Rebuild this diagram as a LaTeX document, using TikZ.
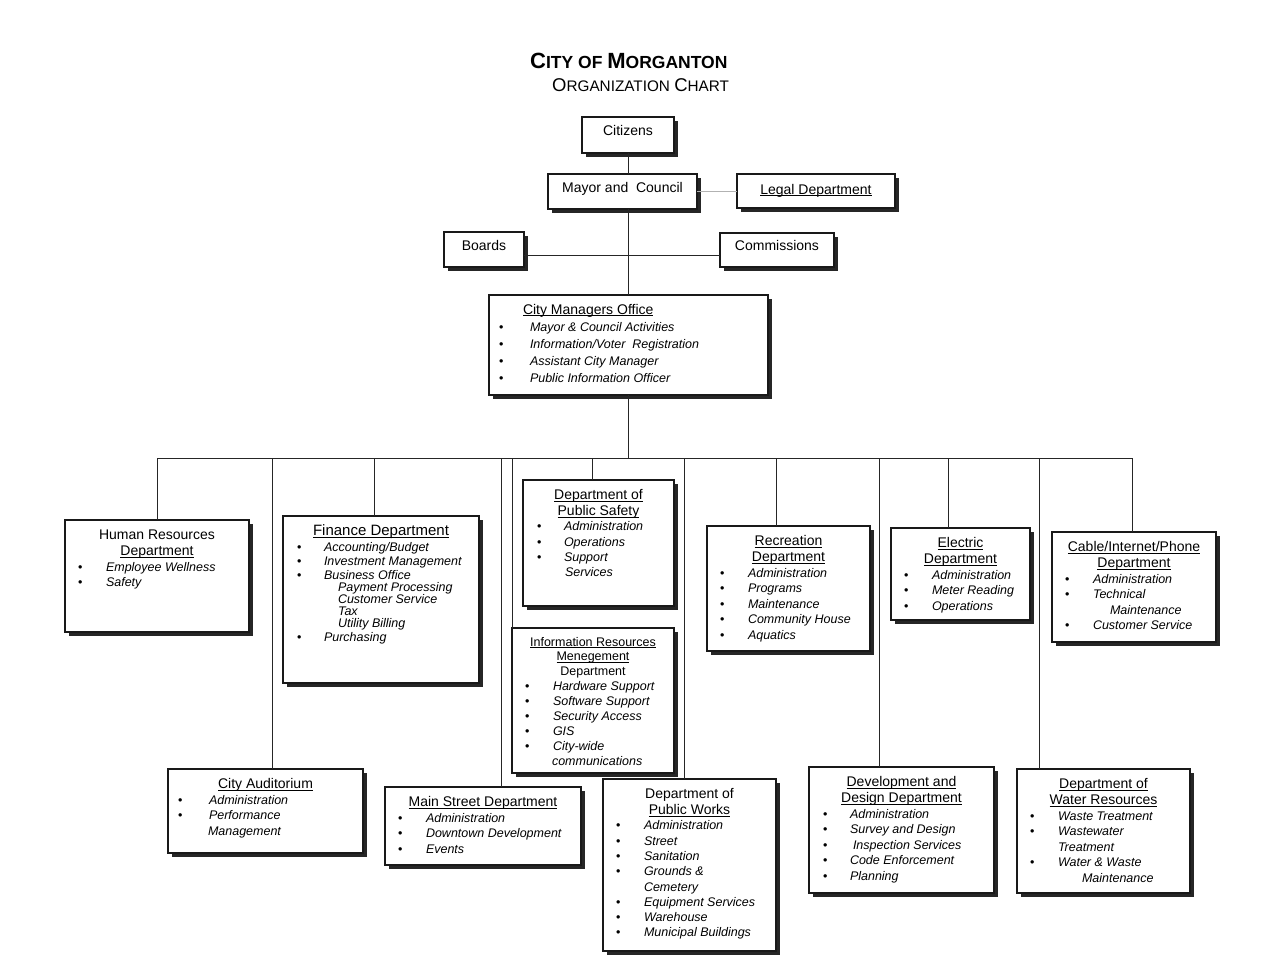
\documentclass[tikz,border=0pt]{standalone}
\usepackage{fontspec}
\setmainfont{Liberation Sans}
\usetikzlibrary{shadows}
\newsavebox{\ulbox}
\newcommand{\ul}[1]{\leavevmode\sbox{\ulbox}{#1}\rlap{\rule[-1.8pt]{\wd\ulbox}{0.7pt}}\usebox{\ulbox}}
\newcommand{\hdsize}{14}
\newcommand{\hdskip}{16}
\newcommand{\bx}[4][19.5pt]{\parbox[t][#3][t]{#2}{\fontsize{12.5}{15.5}\selectfont\setlength{\parindent}{0pt}\setlength{\parskip}{0pt}\rule{0pt}{#1}#4}}
\newcommand{\hd}[1]{{\centering\fontsize{\hdsize}{\hdskip}\selectfont #1\par}}
\newcommand{\itm}[2][13pt]{\par\hspace*{#1}\makebox[\dimexpr41pt-#1\relax][l]{\textbullet}\textit{#2}}
\newcommand{\cnt}[2][41pt]{\par\hspace*{#1}\textit{#2}}
\newcommand{\subitm}[1]{\par\vspace{-2pt}\hspace*{55pt}\textit{#1}}
\tikzset{
  box/.style={draw=black!90, line width=1.1pt, fill=white, inner sep=0pt, outer sep=0pt,
    anchor=north west,
    drop shadow={shadow xshift=4pt, shadow yshift=-4pt, fill=black!85, opacity=1}},
  link/.style={draw=black!85, line width=1pt},
  greylink/.style={draw=black!30, line width=1.3pt}
}
\begin{document}
\begin{tikzpicture}[x=1pt,y=-1pt]
\useasboundingbox (0,0) rectangle (1270,979);
\fill[white] (0,0) rectangle (1270,979);

% title
\node[anchor=base west, inner sep=0] (title) at (530,69)
  {\fontsize{22}{22}\selectfont\bfseries C{\fontsize{17.5}{17.5}\selectfont ITY OF }M{\fontsize{17.5}{17.5}\selectfont ORGANTON}};
\node[anchor=base west, inner sep=0] (subtitle) at (552,92)
  {\fontsize{18.5}{18.5}\selectfont O{\fontsize{15.3}{15.3}\selectfont RGANIZATION }C{\fontsize{15.3}{15.3}\selectfont HART}};

% bus coordinate
\coordinate (bus) at (628,458);

% ---------- boxes ----------
\node[box] (cit) at (582,117) {\bx[18.5pt]{92pt}{36pt}{\hd{Citizens}}};
\node[box] (mayor) at (548,174) {\bx[19pt]{149pt}{35pt}{\hd{Mayor and\ \ Council}}};
\node[box] (legal) at (737,174) {\bx[20pt]{158pt}{34pt}{\hd{\ul{Legal Department}}}};
\node[box] (boards) at (444,232) {\bx[18.5pt]{80pt}{35pt}{\hd{Boards}}};
\node[box] (comm) at (720,233) {\bx[17.5pt]{114pt}{34pt}{\hd{Commissions}}};

\node[box] (cmo) at (489,295) {\bx[19pt]{279pt}{100pt}{\fontsize{12.5}{17}\selectfont\hspace*{34pt}{\fontsize{14}{17}\selectfont\ul{City Managers Office}}%
  \itm[10pt]{Mayor \& Council Activities}\itm[10pt]{Information/Voter\ \ Registration}%
  \itm[10pt]{Assistant City Manager}\itm[10pt]{Public Information Officer}}};

\node[box] (hr) at (65,520) {\bx{184pt}{112pt}{\hd{Human Resources\\\ul{Department}}%
  \itm{Employee Wellness}\itm{Safety}}};

\node[box] (fin) at (283,516) {\bx{196pt}{167pt}{\fontsize{12.5}{14}\selectfont\renewcommand{\hdsize}{15}\hd{\ul{Finance Department}}\vspace{2pt}%
  \itm[14pt]{Accounting/Budget}\itm[14pt]{Investment Management}\itm[14pt]{Business Office}%
  \subitm{Payment Processing}\subitm{Customer Service}\subitm{Tax}\subitm{Utility Billing}%
  \par\itm[14pt]{Purchasing}}};

\node[box] (ps) at (523,480) {\bx{151pt}{126pt}{\fontsize{12.5}{15.3}\selectfont\hd{\ul{Department of}\\\ul{Public Safety}}%
  \itm[14pt]{Administration}\itm[14pt]{Operations}\itm[14pt]{Support}\cnt[42pt]{Services}}};

\node[box] (irm) at (512,628) {\bx[18pt]{162pt}{145pt}{\renewcommand{\hdsize}{12.5}\renewcommand{\hdskip}{14.5}\fontsize{12.5}{15}\selectfont
  \hd{\ul{Information Resources}\\\ul{Menegement}\\Department}%
  \itm{Hardware Support}\itm{Software Support}\itm{Security Access}\itm{GIS}\itm{City-wide}\cnt[40pt]{communications}}};

\node[box] (rec) at (707,526) {\bx{163pt}{125pt}{\hd{\ul{Recreation}\\\ul{Department}}%
  \itm{Administration}\itm{Programs}\itm{Maintenance}\itm{Community House}\itm{Aquatics}}};

\node[box] (elec) at (891,528) {\bx{139pt}{92pt}{\hd{\ul{Electric}\\\ul{Department}}%
  \itm{Administration}\itm{Meter Reading}\itm{Operations}}};

\node[box] (cable) at (1052,532) {\bx{164pt}{110pt}{\hd{\ul{Cable/Internet/Phone}\\\ul{Department}}%
  \itm{Administration}\itm{Technical}\cnt[58pt]{Maintenance}\itm{Customer Service}}};

\node[box] (aud) at (168,769) {\bx{195pt}{84pt}{\hd{\ul{City Auditorium}}%
  \itm[10pt]{Administration}\itm[10pt]{Performance}\cnt[40pt]{Management}}};

\node[box] (main) at (385,787) {\bx{196pt}{78pt}{\hd{\ul{Main Street Department}}%
  \itm{Administration}\itm{Downtown Development}\itm{Events}}};

\node[box] (pw) at (603,779) {\bx{173pt}{172pt}{\fontsize{12.5}{15.3}\selectfont\hd{Department of\\\ul{Public Works}}%
  \itm{Administration}\itm{Street}\itm{Sanitation}\itm{Grounds \&}\cnt{Cemetery}%
  \itm{Equipment Services}\itm{Warehouse}\itm{Municipal Buildings}}};

\node[box] (dev) at (809,767) {\bx{185pt}{126pt}{\hd{\ul{Development and}\\\ul{Design Department}}%
  \itm[14pt]{Administration}\itm[14pt]{Survey and Design}\itm[14pt]{\hspace*{3pt}Inspection Services}%
  \itm[14pt]{Code Enforcement}\itm[14pt]{Planning}}};

\node[box] (water) at (1017,769) {\bx{173pt}{124pt}{\hd{\ul{Department of}\\\ul{Water Resources}}%
  \itm{Waste Treatment}\itm{Wastewater}\cnt{Treatment}\itm{Water \& Waste}\cnt[65pt]{Maintenance}}};

% ---------- connectors ----------
\draw[link] (cit.south) -- (cit.south |- mayor.north);
\draw[link] (cit.south |- mayor.south) -- (cit.south |- cmo.north);
\draw[link] ([yshift=-5.5pt]boards.east) -- ([yshift=-5.5pt]boards.east -| comm.west);
\draw[greylink] (mayor.east) -- (mayor.east -| legal.west);
\draw[link] (cmo.south) -- (cmo.south |- bus);
\draw[link] (hr.north |- bus) -- ([xshift=-2pt]cable.north |- bus);
\draw[link] (hr.north) -- (hr.north |- bus);
\draw[link] ([xshift=6.5pt]aud.north) -- ([xshift=6.5pt]aud.north |- bus);
\draw[link] ([xshift=-7pt]fin.north) -- ([xshift=-7pt]fin.north |- bus);
\draw[link] ([xshift=18pt]main.north) -- ([xshift=18pt]main.north |- bus);
\draw[link] (irm.north west) -- (irm.north west |- bus);
\draw[link] ([xshift=-6.5pt]ps.north) -- ([xshift=-6.5pt]ps.north |- bus);
\draw[link] ([xshift=-5.5pt]pw.north) -- ([xshift=-5.5pt]pw.north |- bus);
\draw[link] ([xshift=-12.5pt]rec.north) -- ([xshift=-12.5pt]rec.north |- bus);
\draw[link] ([xshift=-22.5pt]dev.north) -- ([xshift=-22.5pt]dev.north |- bus);
\draw[link] ([xshift=-12.5pt]elec.north) -- ([xshift=-12.5pt]elec.north |- bus);
\draw[link] ([xshift=-64.5pt]water.north) -- ([xshift=-64.5pt]water.north |- bus);
\draw[link] ([xshift=-2pt]cable.north) -- ([xshift=-2pt]cable.north |- bus);
\end{tikzpicture}
\end{document}
